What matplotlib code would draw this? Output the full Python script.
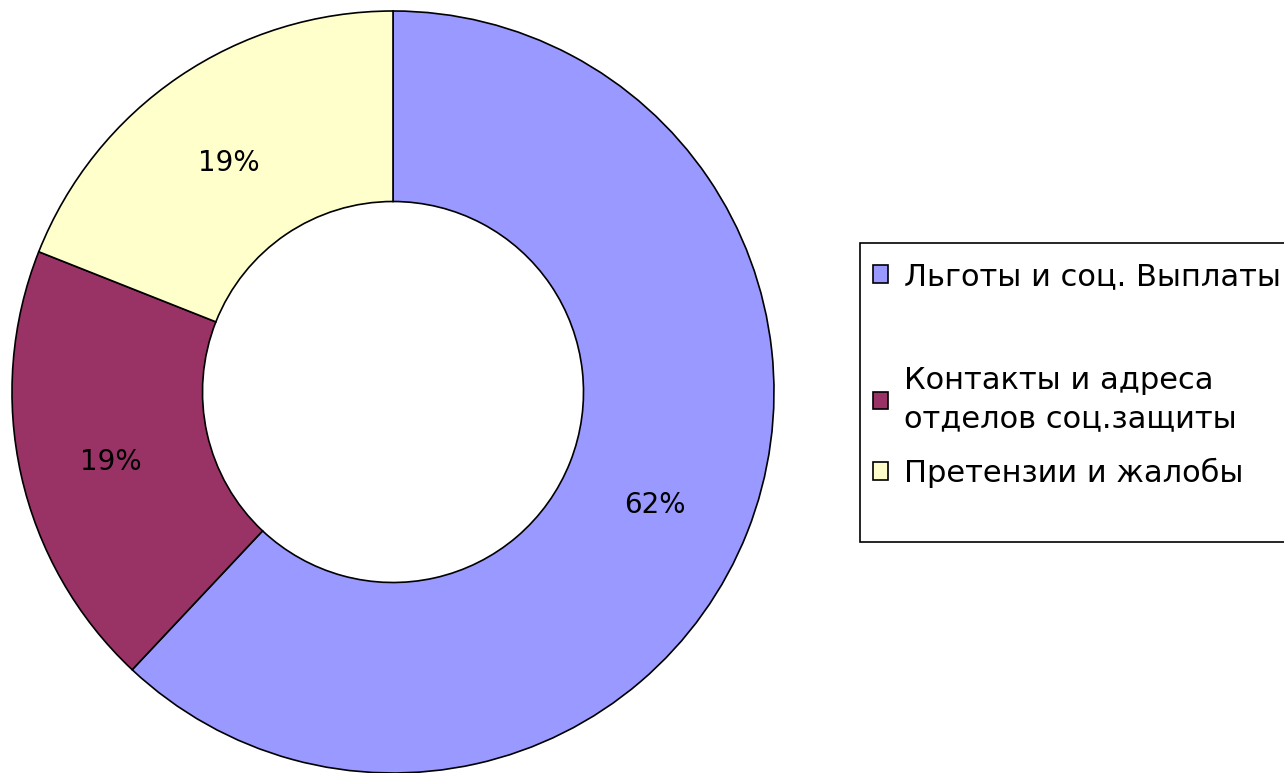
import matplotlib
matplotlib.use("Agg")
from matplotlib import pyplot as plt
from matplotlib.patches import Rectangle, Patch

labels = ["Льготы и соц. Выплаты", "Контакты и адреса\nотделов соц.защиты", "Претензии и жалобы"]
values = [62, 19, 19]
colors = ["#9999FF", "#993366", "#FFFFCC"]

W, H = 1284, 773
fig = plt.figure(figsize=(W / 100, H / 100), dpi=100)
fig.patch.set_facecolor("white")

ax = fig.add_axes([12 / W, 0 / H, 762 / W, 762 / H])
wedges, texts, autotexts = ax.pie(
    values, colors=colors, startangle=90, counterclock=False,
    radius=1.0, autopct="%d%%", pctdistance=0.75,
    wedgeprops=dict(width=0.5, edgecolor="black", linewidth=1.2),
    textprops=dict(fontsize=20, color="black"))
for t in autotexts:
    x, y = t.get_position()
    t.set_position((x - 0.01, y - 0.02))
ax.set_xlim(-1.0, 1.0)
ax.set_ylim(-1.0, 1.0)
ax.set_aspect("equal")
ax.axis("off")

# legend box, running off the right edge
fig.patches.append(Rectangle((860 / W, 1 - 542 / H), 440 / W, 299 / H,
                             transform=fig.transFigure, facecolor="white",
                             edgecolor="black", linewidth=1.2, zorder=0))

handles = [Patch(facecolor=c, edgecolor="black", linewidth=1.2) for c in colors]
common = dict(loc="upper left", frameon=False, fontsize=22, handlelength=0.5,
              handleheight=0.5, handletextpad=0.5, borderpad=0, borderaxespad=0)

# first entry sits apart from the other two
leg1 = fig.legend(handles[:1], labels[:1], bbox_to_anchor=(873 / W, 1 - 262 / H), **common)
leg2 = fig.legend(handles[1:], labels[1:], bbox_to_anchor=(873 / W, 1 - 366 / H),
                  labelspacing=0.8, **common)
for t in leg2.get_texts():
    t.set_linespacing(1.4)

fig.savefig("out.png", dpi=100)
